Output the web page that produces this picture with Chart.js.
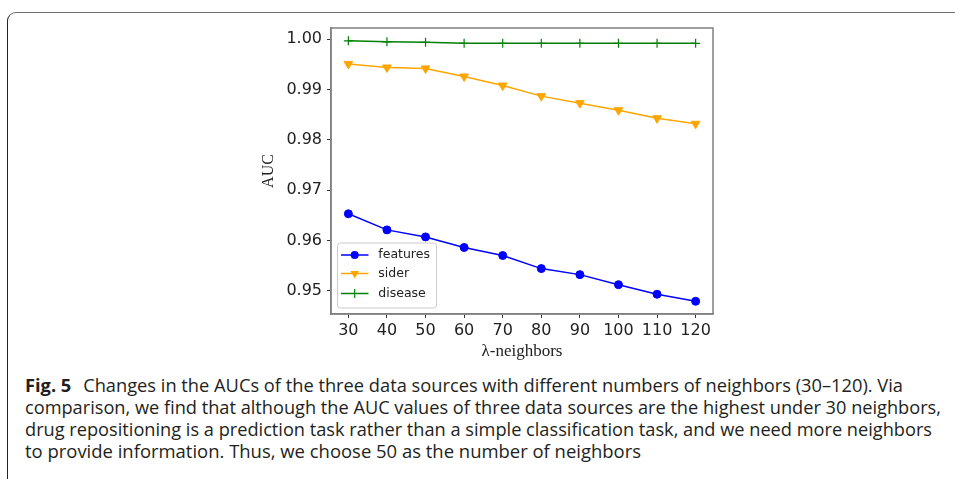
<!DOCTYPE html>
<html><head><meta charset="utf-8">
<script src="https://cdn.jsdelivr.net/npm/chart.js@4"></script>
<style>
html,body{margin:0;padding:0;background:#fff;width:955px;height:479px;overflow:hidden;position:relative;}
#frame{position:absolute;left:7px;top:12px;width:1100px;height:600px;border-top:1.3px solid #6e6e6e;border-left:1.3px solid #222;border-top-left-radius:9px;box-sizing:border-box;}
#c{position:absolute;left:0;top:0;}
#cap{position:absolute;left:25px;top:0;font-family:'Open Sans',sans-serif;font-size:18px;color:#231f20;}
.ln{position:absolute;left:0;white-space:nowrap;transform-origin:0 0;line-height:22px;}
.ln b{margin-right:7px;}
</style>
</head><body>
<div id="frame"></div>
<canvas id="c" width="955" height="362"></canvas>
<div id="cap">
<div class="ln" data-w="878" style="top:373.7px"><b>Fig. 5</b> Changes in the AUCs of the three data sources with different numbers of neighbors (30–120). Via</div>
<div class="ln" data-w="916" style="top:396.3px">comparison, we find that although the AUC values of three data sources are the highest under 30 neighbors,</div>
<div class="ln" data-w="907" style="top:418.3px">drug repositioning is a prediction task rather than a simple classification task, and we need more neighbors</div>
<div class="ln" data-w="616" style="top:440.3px">to provide information. Thus, we choose 50 as the number of neighbors</div>
</div>
<script>
const categories = [30, 40, 50, 60, 70, 80, 90, 100, 110, 120];
const features = [0.9653, 0.9621, 0.9607, 0.9586, 0.9570, 0.9544, 0.9532, 0.9512, 0.9493, 0.9479];
const sider = [0.9951, 0.9944, 0.9942, 0.9926, 0.9908, 0.9887, 0.9873, 0.9859, 0.9843, 0.9832];
const disease = [0.9997, 0.9995, 0.9994, 0.9992, 0.9992, 0.9992, 0.9992, 0.9992, 0.9992, 0.9992];
const yTicks = [0.95, 0.96, 0.97, 0.98, 0.99, 1.00];
const seriesNames = ['features', 'sider', 'disease'];
const seriesColors = ['#0000ff', '#ffa500', '#008000'];
const xTitle = 'λ-neighbors';
const yTitle = 'AUC';

// fit caption line widths
document.querySelectorAll('.ln').forEach(e => {
  const w = e.getBoundingClientRect().width;
  e.style.transform = 'scaleX(' + (Number(e.dataset.w) / w) + ')';
});

function toPts(arr){ return categories.map((c,i)=>({x:c, y:arr[i]})); }

const markerStyles = [
  {pointStyle:'circle', radius:4, rotation:0, bw:1},
  {pointStyle:'triangle', radius:5, rotation:180, bw:1},
  {pointStyle:'cross', radius:4.5, rotation:0, bw:1.2}
];
const seriesData = [features, sider, disease];

const datasets = seriesData.map((d,i)=>({
  label: seriesNames[i],
  data: toPts(d),
  borderColor: seriesColors[i],
  backgroundColor: seriesColors[i],
  borderWidth: 1.5,
  pointStyle: markerStyles[i].pointStyle,
  pointRadius: markerStyles[i].radius,
  pointRotation: markerStyles[i].rotation,
  pointBorderWidth: markerStyles[i].bw,
  pointBackgroundColor: seriesColors[i],
  pointBorderColor: seriesColors[i],
  tension: 0,
  fill: false
}));

function drawMarker(ctx, style, x, y, color){
  ctx.save();
  ctx.fillStyle = color; ctx.strokeStyle = color; ctx.lineWidth = style.bw;
  const r = style.radius;
  ctx.beginPath();
  if (style.pointStyle === 'circle') {
    ctx.arc(x, y, r, 0, Math.PI*2); ctx.fill();
  } else if (style.pointStyle === 'triangle') {
    ctx.moveTo(x, y + r);
    ctx.lineTo(x - r*Math.sin(Math.PI/3), y - r*0.5);
    ctx.lineTo(x + r*Math.sin(Math.PI/3), y - r*0.5);
    ctx.closePath(); ctx.fill();
  } else {
    ctx.moveTo(x - r, y); ctx.lineTo(x + r, y);
    ctx.moveTo(x, y - r); ctx.lineTo(x, y + r); ctx.stroke();
  }
  ctx.restore();
}

const boxPlugin = {
  id:'box',
  afterDatasetsDraw(chart){
    const {ctx, chartArea:a} = chart;
    ctx.save();
    ctx.strokeStyle = '#808080'; ctx.lineWidth = 1.5;
    ctx.strokeRect(a.left, a.top, a.right - a.left, a.bottom - a.top);
    ctx.restore();
  }
};

const legendPlugin = {
  id:'mplLegend',
  afterDraw(chart){
    const ctx = chart.ctx;
    const bx = 337.5, by = 243, bw = 99, bh = 65, r = 3;
    ctx.save();
    ctx.beginPath();
    ctx.moveTo(bx + r, by); ctx.lineTo(bx + bw - r, by); ctx.arcTo(bx + bw, by, bx + bw, by + r, r);
    ctx.lineTo(bx + bw, by + bh - r); ctx.arcTo(bx + bw, by + bh, bx + bw - r, by + bh, r);
    ctx.lineTo(bx + r, by + bh); ctx.arcTo(bx, by + bh, bx, by + bh - r, r);
    ctx.lineTo(bx, by + r); ctx.arcTo(bx, by, bx + r, by, r); ctx.closePath();
    ctx.fillStyle = 'rgba(255,255,255,0.8)'; ctx.fill();
    ctx.strokeStyle = '#cccccc'; ctx.lineWidth = 1; ctx.stroke();
    const ys = [255, 273.5, 293.5];
    chart.data.datasets.forEach((ds, i) => {
      const y = ys[i];
      ctx.strokeStyle = ds.borderColor; ctx.lineWidth = 1.5;
      ctx.beginPath(); ctx.moveTo(341, y); ctx.lineTo(368.5, y); ctx.stroke();
      drawMarker(ctx, markerStyles[i], 354.7, y, ds.borderColor);
      ctx.fillStyle = '#222'; ctx.font = '12.5px "DejaVu Sans"';
      ctx.textBaseline = 'middle'; ctx.textAlign = 'left';
      ctx.fillText(ds.label, 378.3, y);
    });
    ctx.restore();
  }
};

new Chart(document.getElementById('c').getContext('2d'), {
  type: 'line',
  data: { datasets },
  options: {
    responsive: false, animation: false, devicePixelRatio: 1,
    layout: { padding: { left: 259, top: 28, right: 242, bottom: 0 } },
    plugins: { legend: { display: false }, tooltip: { enabled: false } },
    scales: {
      x: {
        type: 'linear', min: 25.5, max: 124.5,
        afterBuildTicks: s => { s.ticks = categories.map(v => ({ value: v })); },
        afterFit: s => { s.height = 48; },
        ticks: { font: { family: 'DejaVu Sans', size: 16 }, color: '#222', padding: 3, autoSkip: false, maxRotation: 0, callback: v => String(v) },
        grid: { drawOnChartArea: false, drawTicks: true, tickLength: 4, color: '#333', lineWidth: 1 },
        border: { color: '#808080', width: 1.5 },
        title: { display: true, text: xTitle, font: { family: 'Liberation Serif', size: 17 }, color: '#222', padding: 0 }
      },
      y: {
        type: 'linear', min: 0.94537, max: 1.00225,
        afterBuildTicks: s => { s.ticks = yTicks.map(v => ({ value: v })); },
        afterFit: s => { s.width = 72; },
        ticks: { font: { family: 'DejaVu Sans', size: 16 }, color: '#222', padding: 5, autoSkip: false, callback: v => Number(v).toFixed(2) },
        grid: { drawOnChartArea: false, drawTicks: true, tickLength: 4, color: '#333', lineWidth: 1 },
        border: { color: '#808080', width: 1.5 },
        title: { display: true, text: yTitle, font: { family: 'Liberation Serif', size: 16 }, color: '#222', padding: 0 }
      }
    }
  },
  plugins: [boxPlugin, legendPlugin]
});
</script>
</body></html>
